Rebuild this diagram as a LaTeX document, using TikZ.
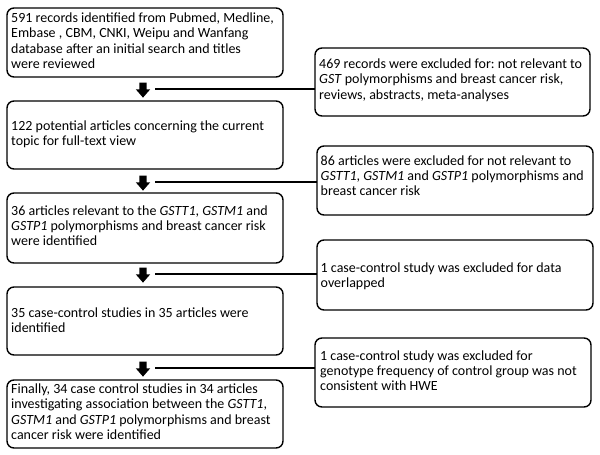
\documentclass[tikz,border=0pt]{standalone}
\usepackage{fontspec}
\setmainfont{Carlito}
\usetikzlibrary{shapes.arrows,calc}
\begin{document}
\frenchspacing
\begin{tikzpicture}[x=1pt,y=-1pt,
  box/.style={draw,line width=1.4pt,rounded corners=7pt},
  txt/.style={anchor=base west,align=left,inner sep=0pt,font=\fontsize{14}{15.4}\selectfont},
  darrow/.style={single arrow,fill=black,draw=none,minimum height=15pt,minimum width=14pt,single arrow head extend=3.5pt,single arrow tip angle=82,inner sep=3.5pt,rotate=-90},
  link/.style={line width=1.2pt}]
\useasboundingbox (0,0) rectangle (600,455);
% left boxes (text anchored at the baseline of its last line)
\draw[box] (7,8) rectangle (283,77);
\node[txt] (t1) at (11,68.7) {591 records identified from Pubmed, Medline,\\Embase , CBM, CNKI, Weipu and Wanfang\\database  after an initial  search and titles\\were reviewed};
\draw[box] (7,101) rectangle (283,169);
\node[txt] (t2) at (11,145.4) {122 potential articles  concerning the current\\topic for full-text view};
\draw[box] (7,193) rectangle (283,263);
\node[txt] (t3) at (11,245.8) {36 articles  relevant to the  \textit{GSTT1}, \textit{GSTM1} and\\\textit{GSTP1} polymorphisms and breast cancer risk\\were identified};
\draw[box] (7,287) rectangle (283,355);
\node[txt] (t4) at (11,332.4) {35 case-control studies in 35 articles were\\identified};
\draw[box] (7,380) rectangle (283,448);
\node[txt] (t5) at (11,439.7) {Finally, 34 case control studies in 34 articles\\investigating association between the  \textit{GSTT1},\\\textit{GSTM1} and \textit{GSTP1} polymorphisms and breast\\cancer risk were identified};
% right boxes
\draw[box] (315,48) rectangle (590,116);
\node[txt] (r1) at (319,99.3) {469 records were excluded for: not relevant to\\\textit{GST} polymorphisms and breast cancer risk,\\reviews, abstracts, meta-analyses};
\draw[box] (317,146) rectangle (593,215);
\node[txt] (r2) at (320.5,195.8) {86 articles  were excluded for not relevant to\\\textit{GSTT1}, \textit{GSTM1} and \textit{GSTP1} polymorphisms and\\breast cancer risk};
\draw[box] (317,240) rectangle (593,310);
\node[txt] (r3) at (320.5,287.4) {1 case-control  study was excluded for data\\overlapped};
\draw[box] (315,338) rectangle (591,407);
\node[txt] (r4) at (320,390.8) {1 case-control study was excluded for\\genotype frequency of control group was not\\consistent with HWE};
% arrows and links
\foreach \i/\y/\xr in {1/89/315,2/182/317,3/274/317,4/368/315}{
  \node[darrow] (a\i) at (143,\y-1) {};
  \coordinate (s\i) at (155,\y);
  \coordinate (e\i) at (\xr,\y);
  \draw[link] (s\i) -- (e\i);
}
\end{tikzpicture}
\end{document}
